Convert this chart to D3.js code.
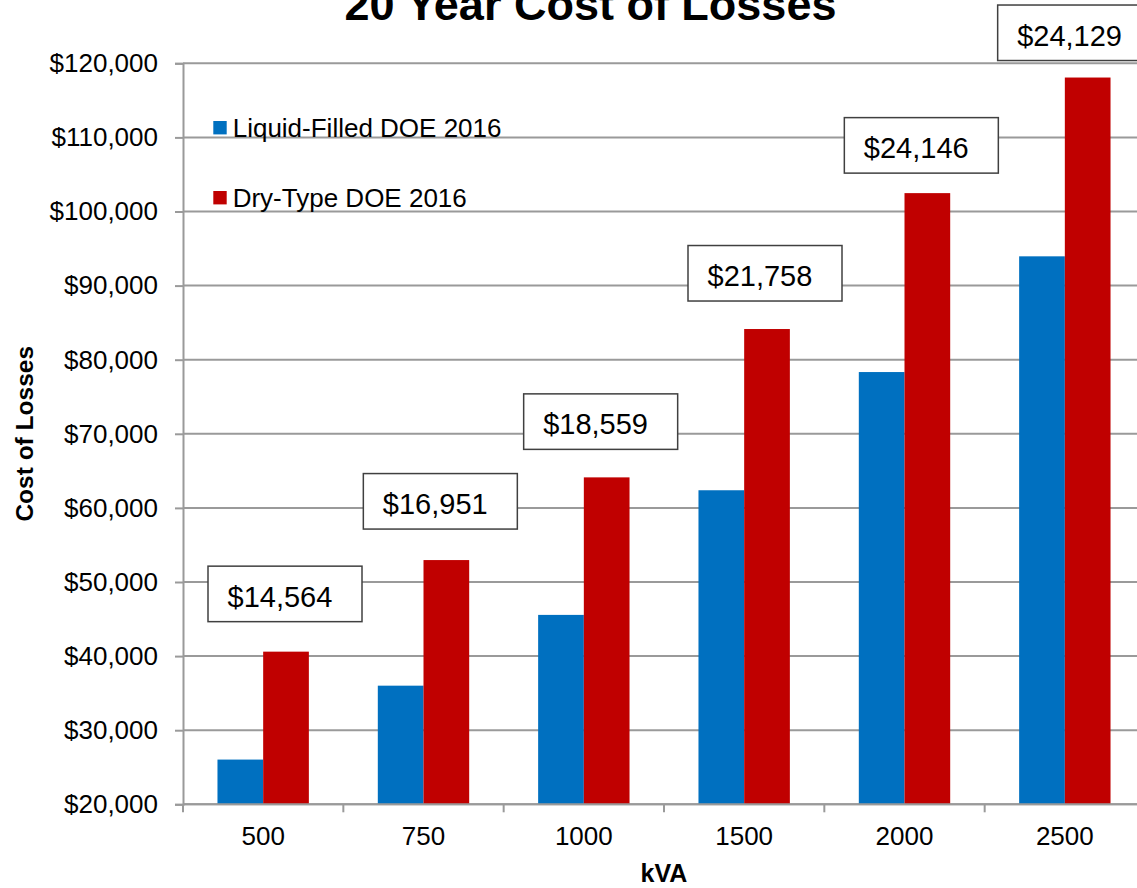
<!DOCTYPE html>
<html>
<head>
<meta charset="utf-8">
<script src="https://cdn.jsdelivr.net/npm/d3@7"></script>
<style>
  html, body { margin: 0; padding: 0; background: #fff; }
  svg { display: block; font-family: Arial, "Liberation Sans", sans-serif; }
</style>
</head>
<body>
<svg id="chart" width="1137" height="888"></svg>
<script>
// Transformer ratings (kVA)
const categories = ["500", "750", "1000", "1500", "2000", "2500"];
// 20-year cost of losses per design standard
const seriesNames = ["Liquid-Filled DOE 2016", "Dry-Type DOE 2016"];
const liquidFilled = [26036, 36009, 45561, 62382, 78334, 93951];
const dryType = [40600, 52960, 64120, 84140, 102480, 118080];
const yTicks = [20000, 30000, 40000, 50000, 60000, 70000, 80000, 90000, 100000, 110000, 120000];

// Callout placement: horizontal inset from the band start, lift above the taller bar
const calloutInset = [25, 20, 20, 24, 20, 13];
const calloutLift = [30, 31, 28, 28, 20, 17];

const colors = ["#0070C0", "#C00000"];
const gridColor = "#9a9a9a";

const svg = d3.select("#chart");
const plot = { left: 183, right: 1145, top: 63.3, bottom: 804.3 };

const x = d3.scaleBand().domain(categories).range([plot.left, plot.right]).padding(0);
const bw = x.bandwidth();
const barW = bw * 0.285;
const x1 = d3.scaleBand().domain(seriesNames)
  .range([(bw - 2 * barW) / 2, (bw + 2 * barW) / 2]).padding(0);
const y = d3.scaleLinear().domain([20000, 120000]).range([plot.bottom, plot.top]);

const money = d3.format("$,");

// Horizontal gridlines
svg.append("g")
  .selectAll("line")
  .data(yTicks)
  .join("line")
  .attr("x1", plot.left).attr("x2", plot.right)
  .attr("y1", d => y(d)).attr("y2", d => y(d))
  .attr("stroke", gridColor).attr("stroke-width", 2);

// Bars
const rows = categories.map((c, i) => ({ cat: c, vals: [liquidFilled[i], dryType[i]] }));
svg.append("g")
  .selectAll("g")
  .data(rows)
  .join("g")
  .attr("transform", d => `translate(${x(d.cat)},0)`)
  .selectAll("rect")
  .data(d => d.vals.map((v, k) => ({ v, k })))
  .join("rect")
  .attr("x", d => x1(seriesNames[d.k]))
  .attr("width", x1.bandwidth())
  .attr("y", d => y(d.v))
  .attr("height", d => y(20000) - y(d.v))
  .attr("fill", d => colors[d.k]);

// Y axis
const yAxis = svg.append("g")
  .attr("transform", `translate(${plot.left},0)`)
  .call(d3.axisLeft(y).tickValues(yTicks).tickFormat(money).tickSize(8).tickPadding(17));
yAxis.select(".domain").attr("stroke", gridColor).attr("stroke-width", 2);
yAxis.selectAll(".tick line").attr("stroke", gridColor).attr("stroke-width", 2);
yAxis.selectAll(".tick text").attr("font-size", 26).attr("fill", "#000")
  .attr("font-family", "Arial, 'Liberation Sans', sans-serif");

// X axis: ticks at band boundaries
const xAxisG = svg.append("g").attr("transform", `translate(0,${plot.bottom})`);
xAxisG.append("line")
  .attr("x1", plot.left).attr("x2", plot.right)
  .attr("stroke", gridColor).attr("stroke-width", 2);
const boundaries = categories.map(c => x(c)).concat([x(categories[categories.length - 1]) + bw]);
xAxisG.selectAll("line.tk")
  .data(boundaries)
  .join("line")
  .attr("class", "tk")
  .attr("x1", d => d).attr("x2", d => d)
  .attr("y1", 0).attr("y2", 8)
  .attr("stroke", gridColor).attr("stroke-width", 2);
xAxisG.selectAll("text")
  .data(categories)
  .join("text")
  .attr("x", d => x(d) + bw / 2)
  .attr("y", 41)
  .attr("text-anchor", "middle")
  .attr("font-size", 26)
  .attr("fill", "#000")
  .text(d => d);

// Axis titles
svg.append("text")
  .attr("x", (plot.left + plot.right) / 2)
  .attr("y", 882)
  .attr("text-anchor", "middle")
  .attr("font-size", 25)
  .attr("font-weight", "bold")
  .text("kVA");

svg.append("text")
  .attr("transform", `translate(33,${(plot.top + plot.bottom) / 2}) rotate(-90)`)
  .attr("text-anchor", "middle")
  .attr("font-size", 24.5)
  .attr("font-weight", "bold")
  .text("Cost of Losses");

// Chart title
svg.append("text")
  .attr("x", 590.5)
  .attr("y", 20)
  .attr("text-anchor", "middle")
  .attr("font-size", 45)
  .attr("font-weight", "bold")
  .text("20 Year Cost of Losses");

// Legend
const legend = svg.append("g");
seriesNames.forEach((name, k) => {
  const baseY = 136.7 + k * 70;
  legend.append("rect")
    .attr("x", 213.3).attr("y", baseY - 15.7)
    .attr("width", 13.4).attr("height", 13.4)
    .attr("fill", colors[k]);
  legend.append("text")
    .attr("x", 232.7).attr("y", baseY)
    .attr("font-size", 26)
    .attr("fill", "#000")
    .text(name);
});

// Callouts: gap between dry-type and liquid-filled cost
const callouts = svg.append("g");
categories.forEach((c, i) => {
  const diff = dryType[i] - liquidFilled[i];
  const boxW = 154, boxH = 55.5;
  const bx = x(c) + calloutInset[i];
  const by = y(dryType[i]) - calloutLift[i] - boxH;
  callouts.append("rect")
    .attr("x", bx).attr("y", by)
    .attr("width", boxW).attr("height", boxH)
    .attr("fill", "#fff")
    .attr("stroke", "#404040")
    .attr("stroke-width", 1.5);
  callouts.append("text")
    .attr("x", bx + 19.5)
    .attr("y", by + 40.5)
    .attr("font-size", 29)
    .attr("fill", "#000")
    .text(money(diff));
});
</script>
</body>
</html>
